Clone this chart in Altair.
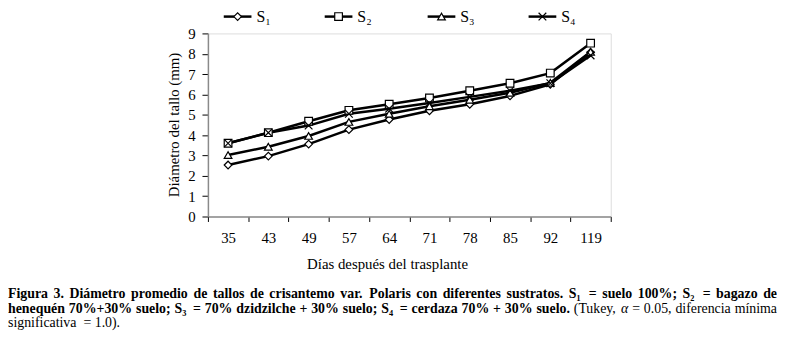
import altair as alt
import pandas as pd

days = ["35", "43", "49", "57", "64", "71", "78", "85", "92", "119"]
series = ["S1", "S2", "S3", "S4"]
s1 = [2.53, 2.97, 3.56, 4.27, 4.77, 5.20, 5.52, 5.93, 6.50, 8.07]
s2 = [3.60, 4.12, 4.68, 5.22, 5.52, 5.83, 6.18, 6.55, 7.05, 8.52]
s3 = [3.02, 3.43, 3.96, 4.65, 5.05, 5.42, 5.74, 6.08, 6.57, 8.10]
s4 = [3.60, 4.12, 4.47, 5.05, 5.30, 5.58, 5.88, 6.18, 6.55, 7.92]
legend_labels = ["S\u2081", "S\u2082", "S\u2083", "S\u2084"]
shapes = ["diamond", "square", "triangle-up", "M-1,-1L1,1M-1,1L1,-1"]

# caption text
cap1 = "Figura 3. Diámetro promedio de tallos de crisantemo var. Polaris con diferentes sustratos. S\u2081 = suelo 100%; S\u2082 = bagazo de"
cap2_bold = "henequén 70%+30% suelo; S\u2083 = 70% dzidzilche + 30% suelo; S\u2084 = cerdaza 70% + 30% suelo."
cap2_reg = "(Tukey, \u03b1 = 0.05, diferencia mínima"
cap3 = "significativa  = 1.0)."

FONT = "Liberation Serif"
PAGE_MARGIN = 8
PAGE_RIGHT = 785
PLOT_LEFT = 210   # page x of plot origin
CAP_SIZE = 14

# approximate Times advance widths (em/1000) used to justify the caption
BOLD = {" ": 250, "%": 1000, "(": 333, ")": 333, "+": 570, ",": 250, ".": 250, ";": 333,
        "=": 570, "S": 556, "F": 611, "D": 722, "P": 611, "T": 667,
        "a": 500, "b": 556, "c": 444, "d": 556, "e": 444, "f": 333, "g": 500, "h": 556,
        "i": 278, "l": 278, "m": 833, "n": 556, "o": 500, "p": 556, "q": 556, "r": 444,
        "s": 389, "t": 333, "u": 556, "v": 500, "z": 444, "á": 500, "é": 444, "í": 278,
        "y": 500, "k": 556}
REG = {" ": 250, "%": 833, "(": 333, ")": 333, "+": 564, ",": 250, ".": 250, ";": 278,
       "=": 564, "T": 611, "a": 444, "c": 444, "d": 500, "e": 444, "f": 333, "g": 500,
       "i": 278, "k": 500, "l": 278, "m": 778, "n": 500, "r": 333, "s": 389, "t": 278,
       "u": 500, "v": 500, "y": 500, "í": 278, "\u03b1": 520}


def wwidth(word, table, size):
    total = 0
    for ch in word:
        if ch.isdigit():
            total += 500
        elif "\u2080" <= ch <= "\u2089":
            total += 330
        else:
            total += table.get(ch, 500)
    return total * size / 1000.0


def justify(items, size):
    """items: list of (word, style). Returns list of x (page) spanning the full width."""
    widths = [wwidth(w, BOLD if s == "b" else REG, size) for w, s in items]
    gap = (PAGE_RIGHT - PAGE_MARGIN - sum(widths)) / (len(items) - 1)
    xs, x = [], PAGE_MARGIN
    for wd in widths:
        xs.append(x)
        x += wd + gap
    return xs


line1 = [(w, "b") for w in cap1.split(" ")]
line2 = [(w, "b") for w in cap2_bold.split(" ")] + \
        [(w, "i" if w == "\u03b1" else "r") for w in cap2_reg.split(" ")]
x1 = justify(line1, CAP_SIZE)
x2 = justify(line2, CAP_SIZE)

# last line: natural spacing (double space before "=")
line3 = [(w, "r") for w in cap3.split()]
x3, x = [], PAGE_MARGIN
for k, (w, s) in enumerate(line3):
    x3.append(x)
    x += wwidth(w, REG, CAP_SIZE) + wwidth(" ", REG, CAP_SIZE)
    if k == 0:
        x += wwidth(" ", REG, CAP_SIZE)

cap_rows = []
for items, xs, yb in [(line1, x1, 267), (line2, x2, 282), (line3, x3, 296.5)]:
    for (w, s), xx in zip(items, xs):
        cap_rows.append({"w": w, "s": s, "px": xx - PLOT_LEFT, "py": yb})
cap_df = pd.DataFrame(cap_rows)

rows = []
for name, vals in zip(series, [s1, s2, s3, s4]):
    for d, v in zip(days, vals):
        rows.append({"dia": d, "serie": name, "diam": v})
df = pd.DataFrame(rows)

xenc = alt.X(
    "dia:N", sort=days,
    scale=alt.Scale(type="band", paddingInner=0, paddingOuter=0),
    axis=alt.Axis(
        title="Días después del trasplante", labelAngle=0, tickBand="extent",
        tickSize=5, tickColor="#000", domainColor="#8a8a8a", domainWidth=1.5,
        labelFont=FONT, labelFontSize=15, labelColor="#000", labelPadding=9,
        titleFont=FONT, titleFontSize=15, titleFontWeight="normal", titleColor="#000",
        titleX=181, titleY=48, titleBaseline="middle", titleAnchor="middle",
    ),
)
yenc = alt.Y(
    "diam:Q",
    scale=alt.Scale(domain=[0, 9], nice=False),
    axis=alt.Axis(
        title="Diámetro del tallo (mm)", values=list(range(10)), tickCount=10,
        labelOverlap=False,
        tickSize=6, tickColor="#000", domainColor="#8a8a8a", domainWidth=1.5,
        labelFont=FONT, labelFontSize=15, labelColor="#000", labelPadding=7,
        titleFont=FONT, titleFontSize=15, titleFontWeight="normal", titleColor="#000",
        titleX=-35, titleY=92, titleAngle=-90, titleBaseline="middle", titleAlign="center",
        grid=False,
    ),
)

lines = alt.Chart(df).mark_line(color="black", strokeWidth=2.5).encode(
    x=xenc, y=yenc, detail="serie:N"
)
points = alt.Chart(df).mark_point(
    filled=True, fill="white", stroke="black", strokeWidth=1.2, size=60, opacity=1
).encode(
    x=xenc,
    y=yenc,
    shape=alt.Shape("serie:N", scale=alt.Scale(domain=series, range=shapes), legend=None),
)

layers = [lines, points]

leg_x0 = [16, 118, 222, 324]
for i in range(4):
    x0 = leg_x0[i]
    ldf = pd.DataFrame({"lab": [legend_labels[i]]})
    layers.append(
        alt.Chart(ldf).mark_rule(color="black", strokeWidth=2.5).encode(
            x=alt.value(x0), x2=alt.value(x0 + 28), y=alt.value(-17)
        )
    )
    layers.append(
        alt.Chart(ldf).mark_point(
            shape=shapes[i], filled=True, fill="white", stroke="black",
            strokeWidth=1.2, size=60, opacity=1
        ).encode(x=alt.value(x0 + 14), y=alt.value(-17))
    )
    layers.append(
        alt.Chart(ldf).mark_text(
            font=FONT, fontSize=16, align="left", baseline="alphabetic", color="black"
        ).encode(x=alt.value(x0 + 33), y=alt.value(-12), text="lab:N")
    )

for style, weight, fstyle in [("b", "bold", "normal"), ("r", "normal", "normal"),
                              ("i", "normal", "italic")]:
    layers.append(
        alt.Chart(cap_df).transform_filter(alt.datum.s == style).mark_text(
            font=FONT, fontSize=CAP_SIZE, fontWeight=weight, fontStyle=fstyle,
            align="left", baseline="alphabetic", color="black"
        ).encode(
            x=alt.X("px:Q", scale=None),
            y=alt.Y("py:Q", scale=None),
            text="w:N",
        )
    )

chart = alt.layer(*layers).properties(
    width=407, height=185,
    autosize=alt.AutoSizeParams(type="none"),
    padding={"left": 202, "top": 24, "right": 168, "bottom": 114},
).configure_view(stroke=None).configure(background="white")

chart.save("out.html", embed_options={"renderer": "svg", "actions": False})
